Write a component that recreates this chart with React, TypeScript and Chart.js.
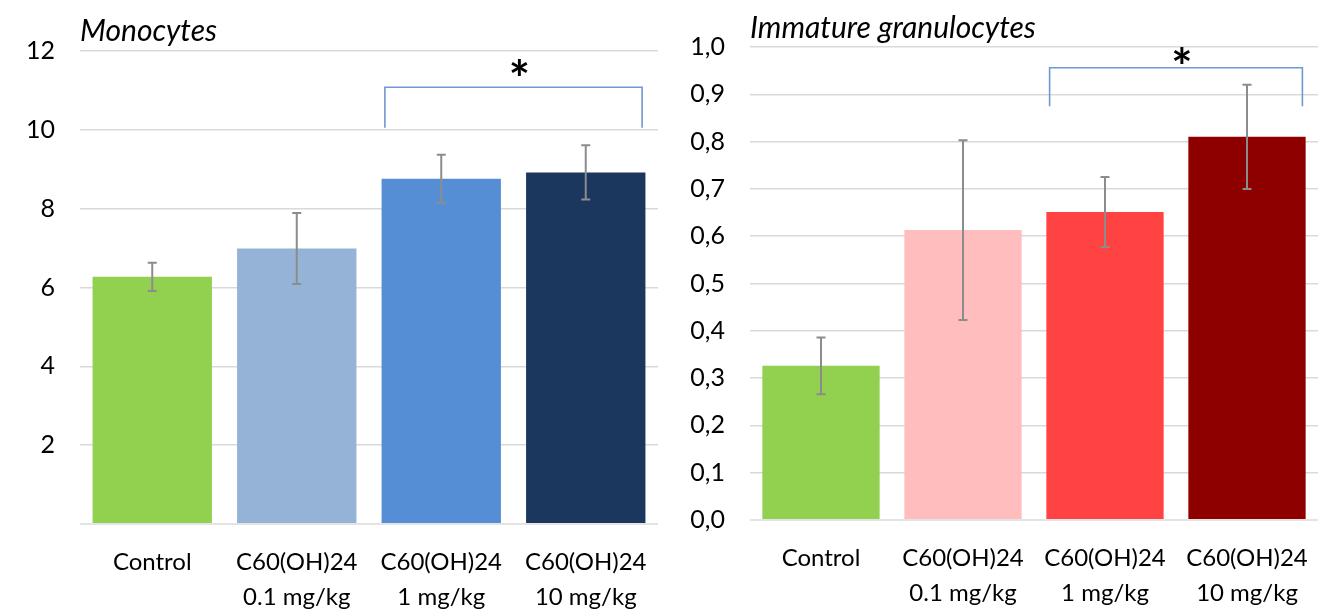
import React, { useEffect, useRef } from "react";
import { Chart, registerables } from "chart.js";

Chart.register(...registerables);

const categories: string[][] = [
  ["Control"],
  ["C60(OH)24", "0.1 mg/kg"],
  ["C60(OH)24", "1 mg/kg"],
  ["C60(OH)24", "10 mg/kg"],
];

const monoTitle = "Monocytes";
const monoValues = [6.27, 6.99, 8.76, 8.92];
const monoErrors = [0.36, 0.9, 0.61, 0.69];
const monoColors = ["#92D050", "#95B3D7", "#558ED5", "#1B375E"];
const monoTickLabels = ["", "2", "4", "6", "8", "10", "12"];
const monoBracket = [11.08, 10.05]; // top level, leg end level
const monoBracketCats = [2, 3];

const granTitle = "Immature granulocytes";
const granValues = [0.326, 0.613, 0.651, 0.81];
const granErrors = [0.06, 0.19, 0.074, 0.11];
const granColors = ["#92D050", "#FFBDBD", "#FF4343", "#8E0000"];
const granTickLabels = ["0,0", "0,1", "0,2", "0,3", "0,4", "0,5", "0,6", "0,7", "0,8", "0,9", "1,0"];
const granBracket = [0.956, 0.875];
const granBracketCats = [2, 3];

const FONT = "Lato, 'Open Sans', sans-serif";

type PanelProps = {
  title: string;
  values: number[];
  errors: number[];
  colors: string[];
  tickLabels: string[];
  yMax: number;
  yStep: number;
  bracket: number[];
  bracketCats: number[];
  width: number;
  padTop: number;
  padRight: number;
  xAxisHeight: number;
  starDy: number;
  titleDy: number;
};

function Panel(p: PanelProps) {
  const ref = useRef<HTMLCanvasElement | null>(null);
  useEffect(() => {
    if (!ref.current) return;
    const overlay = {
      id: "overlay",
      afterDatasetsDraw(chart: any) {
        const ctx = chart.ctx;
        const x = chart.scales.x;
        const y = chart.scales.y;
        const area = chart.chartArea;
        ctx.save();
        ctx.strokeStyle = "#E4E4E4";
        ctx.lineWidth = 2;
        ctx.beginPath();
        ctx.moveTo(area.left, y.getPixelForValue(0));
        ctx.lineTo(area.right, y.getPixelForValue(0));
        ctx.stroke();
        ctx.strokeStyle = "#8C8C8C";
        ctx.lineWidth = 2;
        p.values.forEach((v, i) => {
          const cx = x.getPixelForValue(i);
          const top = y.getPixelForValue(v + p.errors[i]);
          const bot = y.getPixelForValue(v - p.errors[i]);
          ctx.beginPath();
          ctx.moveTo(cx, top);
          ctx.lineTo(cx, bot);
          ctx.moveTo(cx - 4.5, top);
          ctx.lineTo(cx + 4.5, top);
          ctx.moveTo(cx - 4.5, bot);
          ctx.lineTo(cx + 4.5, bot);
          ctx.stroke();
        });
        ctx.restore();
      },
      afterDraw(chart: any) {
        const ctx = chart.ctx;
        const x = chart.scales.x;
        const y = chart.scales.y;
        const area = chart.chartArea;
        const catW = x.getPixelForValue(1) - x.getPixelForValue(0);
        ctx.save();
        ctx.fillStyle = "#000000";
        ctx.font = `italic 30px ${FONT}`;
        ctx.textAlign = "left";
        ctx.textBaseline = "middle";
        ctx.fillText(p.title, area.left, area.top - p.titleDy);
        const xl = x.getPixelForValue(p.bracketCats[0]) - 0.39 * catW;
        const xr = x.getPixelForValue(p.bracketCats[1]) + 0.39 * catW;
        const yt = y.getPixelForValue(p.bracket[0]);
        const yb = y.getPixelForValue(p.bracket[1]);
        ctx.strokeStyle = "#6F98D4";
        ctx.lineWidth = 1.6;
        ctx.beginPath();
        ctx.moveTo(xl, yb);
        ctx.lineTo(xl, yt);
        ctx.lineTo(xr, yt);
        ctx.lineTo(xr, yb);
        ctx.stroke();
        ctx.fillStyle = "#000000";
        ctx.font = `bold 50px ${FONT}`;
        ctx.textAlign = "center";
        ctx.textBaseline = "alphabetic";
        ctx.fillText("*", (xl + xr) / 2 + 6, yt - p.starDy);
        ctx.restore();
      },
    };
    const chart = new Chart(ref.current, {
      type: "bar",
      data: {
        labels: categories,
        datasets: [
          {
            data: p.values,
            backgroundColor: p.colors,
            borderWidth: 0,
            categoryPercentage: 1,
            barPercentage: 0.826,
          },
        ],
      },
      options: {
        animation: false,
        responsive: false,
        devicePixelRatio: 1,
        events: [],
        layout: { padding: { left: 0, right: p.padRight, top: p.padTop, bottom: 0 } },
        plugins: { legend: { display: false }, tooltip: { enabled: false }, title: { display: false } },
        scales: {
          x: {
            grid: { display: false, drawTicks: false },
            border: { display: false },
            ticks: {
              color: "#000000",
              font: { family: FONT, size: 24, lineHeight: 1.46 },
              padding: 21,
              maxRotation: 0,
              autoSkip: false,
            },
            afterFit(scale: any) {
              scale.height = p.xAxisHeight;
            },
          },
          y: {
            min: 0,
            max: p.yMax,
            grid: { color: "#D9D9D9", lineWidth: 1.5, drawTicks: false },
            border: { display: false },
            ticks: {
              stepSize: p.yStep,
              color: "#000000",
              font: { family: FONT, size: 25 },
              padding: 25,
              callback: (_v: any, i: number) => p.tickLabels[i],
            },
            afterFit(scale: any) {
              scale.width = 80;
            },
          },
        },
      },
      plugins: [overlay],
    } as any);
    return () => chart.destroy();
  }, []);
  return <canvas ref={ref} width={p.width} height={612} style={{ display: "block" }} />;
}

export default function App() {
  return (
    <div style={{ position: "absolute", left: 0, top: 0, width: 1343, height: 612, display: "flex", background: "#fff" }}>
      <Panel
        title={monoTitle}
        values={monoValues}
        errors={monoErrors}
        colors={monoColors}
        tickLabels={monoTickLabels}
        yMax={12}
        yStep={2}
        bracket={monoBracket}
        bracketCats={monoBracketCats}
        width={670}
        padTop={51}
        padRight={12}
        xAxisHeight={88}
        starDy={-10}
        titleDy={20}
      />
      <Panel
        title={granTitle}
        values={granValues}
        errors={granErrors}
        colors={granColors}
        tickLabels={granTickLabels}
        yMax={1.0}
        yStep={0.1}
        bracket={granBracket}
        bracketCats={granBracketCats}
        width={673}
        padTop={47}
        padRight={25}
        xAxisHeight={92}
        starDy={-17}
        titleDy={19}
      />
    </div>
  );
}
